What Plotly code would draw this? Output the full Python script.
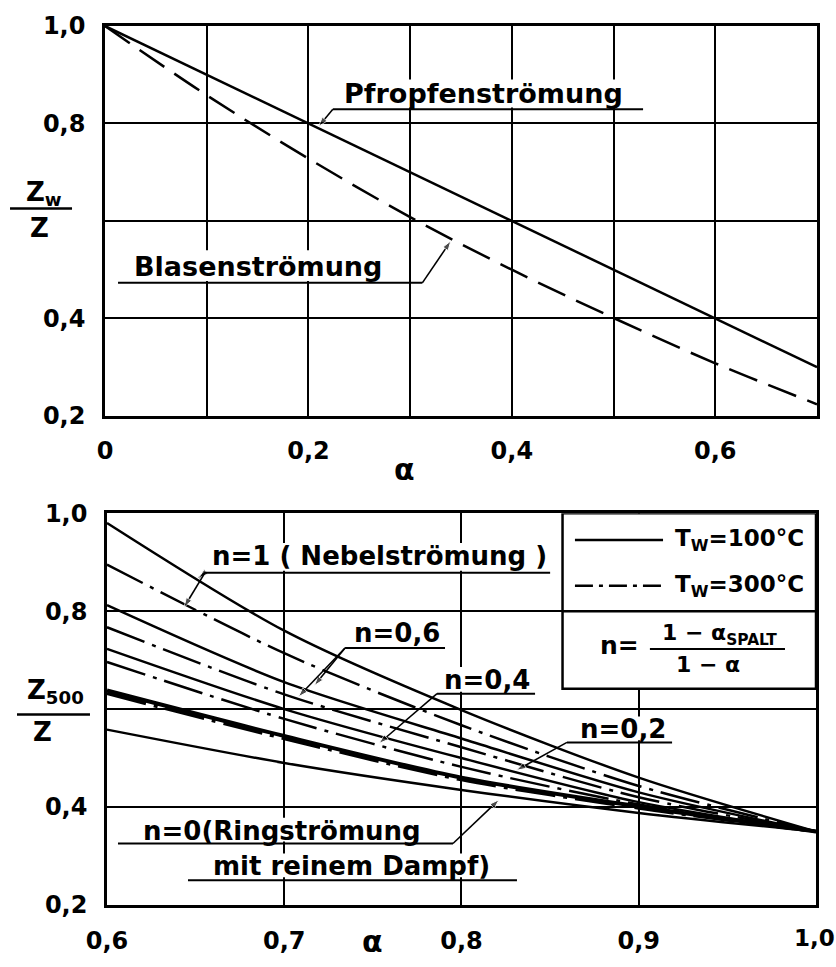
import plotly.graph_objects as go

# ---------------- data ----------------
# upper diagram: Z_w/Z over alpha
alpha_top = [0.0, 0.1, 0.2, 0.3, 0.4, 0.5, 0.6, 0.7]
pfropfen = [1.0, 0.9, 0.8, 0.7, 0.6, 0.5, 0.4, 0.3]          # Pfropfenströmung
blasen = [1.0, 0.858, 0.728, 0.608, 0.500, 0.401, 0.308, 0.224]  # Blasenströmung

# lower diagram: Z_500/Z over alpha
alpha_bot = [0.6, 0.7, 0.8, 0.9, 1.0]
n1_100 = [0.98, 0.76, 0.598, 0.46, 0.35]
n1_300 = [0.895, 0.714, 0.567, 0.443, 0.35]
n06_100 = [0.812, 0.655, 0.54, 0.43, 0.35]
n06_300 = [0.767, 0.63, 0.522, 0.42, 0.35]
n04_100 = [0.723, 0.60, 0.50, 0.41, 0.35]
n04_300 = [0.696, 0.58, 0.482, 0.405, 0.35]
n02_100 = [0.638, 0.545, 0.46, 0.401, 0.35]
n02_300 = [0.632, 0.540, 0.456, 0.398, 0.35]
n0_100 = [0.558, 0.49, 0.435, 0.388, 0.35]

top_xticks = [0.0, 0.2, 0.4, 0.6]
top_xlabels = ["0", "0,2", "0,4", "0,6"]
top_xgrid_extra = [0.1, 0.3, 0.5]
yticks = [0.2, 0.4, 0.8, 1.0]
ylabels = ["0,2", "0,4", "0,8", "1,0"]
ygrid_extra = [0.6]
bot_xticks = [0.6, 0.7, 0.8, 0.9]
bot_xlabels = ["0,6", "0,7", "0,8", "0,9"]
last_xlabel = "1,0"

FONT = "DejaVu Sans"
WEIGHT = "bold"
BLACK = "black"
DASHDOT = "40px,8px,4px,8px"
DASHED = "30px,12px"

fig = go.Figure()

# upper curves
fig.add_trace(go.Scatter(x=alpha_top, y=pfropfen, mode="lines", line=dict(color=BLACK, width=2.5),
                         xaxis="x", yaxis="y", showlegend=False))
fig.add_trace(go.Scatter(x=alpha_top, y=blasen, mode="lines",
                         line=dict(color=BLACK, width=2.5, dash=DASHED, shape="spline"),
                         xaxis="x", yaxis="y", showlegend=False))

# lower curves
series = [
    (n1_100, "solid", 2.5), (n1_300, DASHDOT, 2.5),
    (n06_100, "solid", 2.5), (n06_300, DASHDOT, 2.5),
    (n04_100, "solid", 2.5), (n04_300, DASHDOT, 2.5),
    (n02_100, "solid", 4), (n02_300, DASHDOT, 3.5),
    (n0_100, "solid", 2.5),
]
for vals, dash, w in series:
    fig.add_trace(go.Scatter(x=alpha_bot, y=vals, mode="lines",
                             line=dict(color=BLACK, width=w, dash=dash, shape="spline", smoothing=0.8),
                             xaxis="x2", yaxis="y2", showlegend=False))

axis_common = dict(showline=True, mirror=True, linecolor=BLACK, linewidth=2.5,
                   showgrid=True, gridcolor=BLACK, gridwidth=1.5, zeroline=False,
                   ticks="", tickfont=dict(family=FONT, size=24, color=BLACK, weight=WEIGHT),
                   ticklabelstandoff=12, fixedrange=True)

def minor(vals):
    return dict(tickmode="array", tickvals=vals, showgrid=True, gridcolor=BLACK, gridwidth=1.5, ticks="")

fig.update_layout(
    width=836, height=967,
    margin=dict(l=105, r=19, t=24, b=57),
    paper_bgcolor="white", plot_bgcolor="white",
    xaxis=dict(domain=[0, 1], anchor="y", range=[0, 0.7], tickmode="array",
               tickvals=top_xticks, ticktext=top_xlabels, minor=minor(top_xgrid_extra), **axis_common),
    yaxis=dict(domain=[0.5564, 1.0], anchor="x", range=[0.2, 1.0], tickmode="array",
               tickvals=yticks, ticktext=ylabels, minor=minor(ygrid_extra), **axis_common),
    xaxis2=dict(domain=[0.0028, 0.9986], anchor="y2", range=[0.6, 1.0], tickmode="array",
                tickvals=bot_xticks, ticktext=bot_xlabels, **axis_common),
    yaxis2=dict(domain=[0.0, 0.4458], anchor="x2", range=[0.2, 1.0], tickmode="array",
                tickvals=yticks, ticktext=ylabels, minor=minor(ygrid_extra), **axis_common),
    showlegend=False,
)

annotations = []
shapes = []

def text(x, y, s, ref, size=26, xanchor="center", yanchor="middle"):
    xr, yr = ref
    annotations.append(dict(x=x, y=y, xref=xr, yref=yr, text=s, showarrow=False,
                            xanchor=xanchor, yanchor=yanchor,
                            font=dict(family=FONT, size=size, color=BLACK, weight=WEIGHT)))

def blank(x0, x1, y0, y1, ref):
    # white patch that interrupts the grid behind a label, as in the drawing
    xr, yr = ref
    shapes.append(dict(type="rect", xref=xr, yref=yr, x0=x0, x1=x1, y0=y0, y1=y1,
                       fillcolor="white", line=dict(width=0), layer="above"))

def uline(x0, x1, y, ref, width=2):
    xr, yr = ref
    shapes.append(dict(type="line", xref=xr, yref=yr, x0=x0, x1=x1, y0=y, y1=y,
                       line=dict(color=BLACK, width=width), layer="above"))

def arrow(x0, y0, x1, y1, ref):
    # leader line from a label to a curve, ending in an arrow head
    xr, yr = ref
    fig.add_trace(go.Scatter(x=[x0, x1], y=[y0, y1], mode="lines+markers",
                             line=dict(color=BLACK, width=1.6),
                             marker=dict(symbol="arrow", size=[0, 10], angleref="previous", color=BLACK),
                             xaxis=xr, yaxis=yr, showlegend=False, hoverinfo="skip"))

T = ("x", "y")
B = ("x2", "y2")
P = ("paper", "paper")

# ---- upper diagram labels ----
blank(0.229, 0.516, 0.833, 0.890, T)
text(0.372, 0.862, "Pfropfenströmung", T, size=27)
uline(0.224, 0.529, 0.829, T)
arrow(0.224, 0.829, 0.210, 0.794, T)

blank(0.0197, 0.2822, 0.477, 0.540, T)
text(0.150, 0.507, "Blasenströmung", T, size=27)
uline(0.0128, 0.312, 0.473, T)
arrow(0.312, 0.473, 0.340, 0.559, T)

# axis titles upper
text(0.421, 0.495, "α", P, size=30)
text(-0.0857, 0.809, "Z<sub>w</sub>", P, size=26)
shapes.append(dict(type="line", xref="paper", yref="paper", x0=-0.1334, x1=-0.0463, y0=0.7923, y1=0.7923,
                   line=dict(color=BLACK, width=2.5)))
text(-0.0913, 0.7698, "Z", P, size=26)

# ---- lower diagram labels ----
blank(0.6553, 0.85, 0.8825, 0.9392, B)
text(0.7535, 0.913, "n=1 ( Nebelströmung )", B, size=26)
uline(0.6553, 0.85, 0.8785, B)
arrow(0.6553, 0.8785, 0.6518, 0.868, B)
arrow(0.6553, 0.8785, 0.6435, 0.808, B)

blank(0.7371, 0.7907, 0.7286, 0.7833, B)
text(0.7636, 0.755, "n=0,6", B, size=26)
uline(0.7343, 0.7907, 0.7246, B)
arrow(0.7343, 0.7246, 0.7170, 0.648, B)
arrow(0.7343, 0.7246, 0.7080, 0.625, B)

blank(0.789, 0.8415, 0.6354, 0.686, B)
text(0.8144, 0.660, "n=0,4", B, size=26)
uline(0.7862, 0.8415, 0.6314, B)
arrow(0.7862, 0.6314, 0.7535, 0.530, B)

blank(0.8657, 0.9165, 0.5362, 0.5848, B)
text(0.8911, 0.5585, "n=0,2", B, size=26)
uline(0.8595, 0.9188, 0.532, B)
arrow(0.8595, 0.532, 0.831, 0.475, B)

blank(0.6073, 0.7907, 0.3297, 0.3782, B)
text(0.699, 0.352, "n=0(Ringströmung", B, size=26)
uline(0.6062, 0.7952, 0.3256, B)
blank(0.6468, 0.8302, 0.2567, 0.3053, B)
text(0.7379, 0.279, "mit reinem Dampf)", B, size=26)
uline(0.6457, 0.8313, 0.2506, B)
arrow(0.7952, 0.3256, 0.8212, 0.415, B)

# legend box
shapes.append(dict(type="rect", xref="x2", yref="y2", x0=0.857, x1=1.0, y0=0.6415, y1=1.0,
                   fillcolor="white", line=dict(color=BLACK, width=2.5), layer="above"))
shapes.append(dict(type="line", xref="x2", yref="y2", x0=0.857, x1=1.0, y0=0.7995, y1=0.7995,
                   line=dict(color=BLACK, width=2.5), layer="above"))
shapes.append(dict(type="line", xref="x2", yref="y2", x0=0.864, x1=0.9137, y0=0.945, y1=0.945,
                   line=dict(color=BLACK, width=2.5), layer="above"))
shapes.append(dict(type="line", xref="x2", yref="y2", x0=0.864, x1=0.9137, y0=0.852, y1=0.852,
                   line=dict(color=BLACK, width=2.5, dash="18px,6px,4px,6px"), layer="above"))
text(0.9195, 0.945, "T<sub>W</sub>=100°C", B, size=23, xanchor="left")
text(0.9195, 0.852, "T<sub>W</sub>=300°C", B, size=23, xanchor="left")
text(0.8889, 0.7306, "n=", B, size=25)
text(0.9458, 0.7529, "1 − α<sub>SPALT</sub>", B, size=22)
shapes.append(dict(type="line", xref="x2", yref="y2", x0=0.9063, x1=0.9825, y0=0.7225, y1=0.7225,
                   line=dict(color=BLACK, width=2), layer="above"))
text(0.939, 0.690, "1 − α", B, size=22)

# last x tick label of the lower diagram, kept inside the page
text(0.9958, -0.037, last_xlabel, P, size=23)

# axis titles lower
text(0.376, -0.0632, "α", P, size=30, yanchor="bottom")
text(-0.0702, 0.2427, "Z<sub>500</sub>", P, size=26)
shapes.append(dict(type="line", xref="paper", yref="paper", x0=-0.1236, x1=-0.0211, y0=0.2167, y1=0.2167,
                   line=dict(color=BLACK, width=2.5)))
text(-0.0871, 0.1964, "Z", P, size=26)

fig.update_layout(annotations=annotations, shapes=shapes)
fig.write_html("out.html", config={"displayModeBar": False},
               post_script="document.body.style.margin='0';document.body.style.overflow='hidden';")
